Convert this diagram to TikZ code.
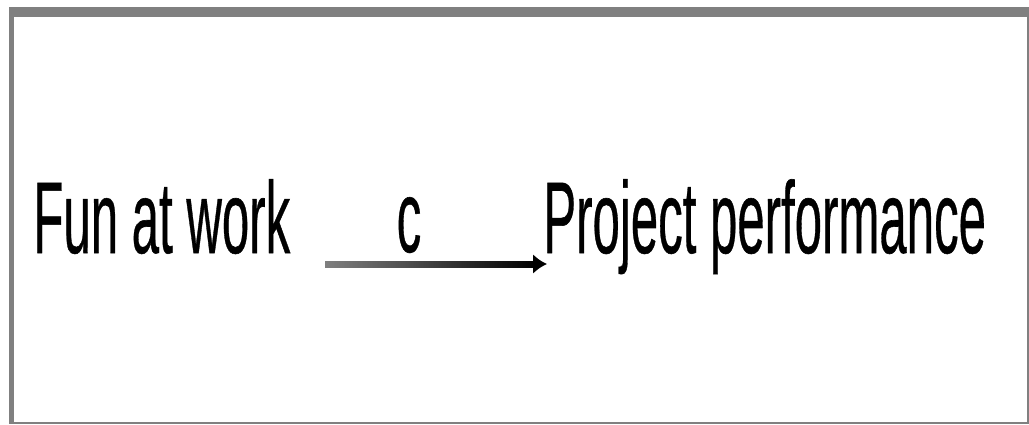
\documentclass[tikz,border=0pt]{standalone}
\usepackage{fontspec}
\setmainfont{Liberation Sans}
\newfontfamily\lblfont[FakeBold=0.6]{Liberation Sans}
\usepackage{graphicx}
\usetikzlibrary{arrows.meta,calc}
\definecolor{frameGray}{HTML}{808080}
\newcommand{\squeeze}[1]{\scalebox{0.482}[1]{#1}}

\begin{document}
\begin{tikzpicture}[x=0.5pt,y=-0.5pt,
  lbl/.style={inner sep=0pt,font=\lblfont\fontsize{51}{56}\selectfont},
  link/.style={line width=2.5pt,-{Latex[length=7pt,width=10pt]}}]
\useasboundingbox (0,0) rectangle (1029,424);
% --- frame ---
\fill[frameGray] (9,7) rectangle (1029,17);
\fill[frameGray] (9,7) rectangle (14,424);
\fill[frameGray] (1027,7) rectangle (1029,424);
\fill[frameGray] (9,422) rectangle (1029,424);
% --- labels ---
\node[lbl,anchor=base west] (fun) at (33,253) {\squeeze{Fun at work}};
\node[lbl,anchor=base west] (proj) at (543,253) {\squeeze{Project performance}};
% --- arrow c ---
\coordinate (tail) at (325,264);
\coordinate (head) at ($(proj.base west)+(4,11)$);
\shade[left color=black!50,right color=black] ($(tail)+(0,-3)$) rectangle ($(head)+(-12,3)$);
\draw[link] ($(head)+(-14,0)$) -- (head);
\node[lbl,anchor=base] (c) at (409,252) {\squeeze{c}};
\end{tikzpicture}
\end{document}
